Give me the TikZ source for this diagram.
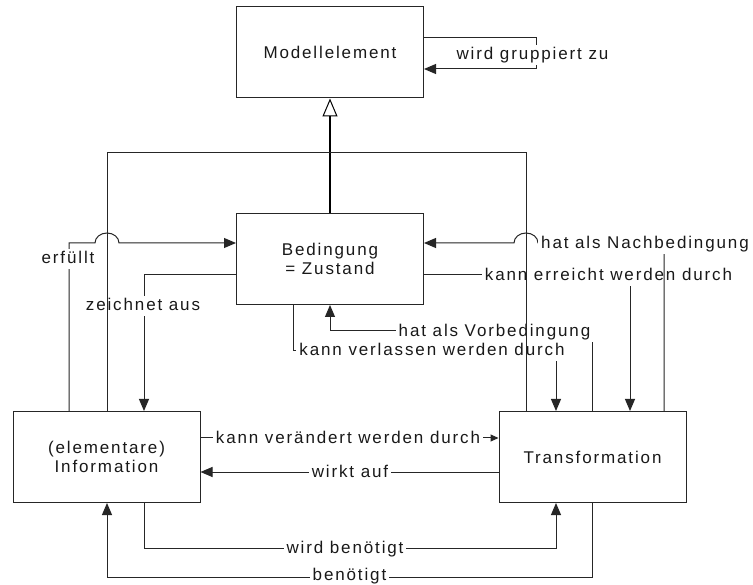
\documentclass[tikz,border=0pt]{standalone}
\usepackage{fontspec}
\setmainfont{Liberation Sans}[LetterSpace=11]
\usetikzlibrary{arrows.meta}

\newcommand{\diagfont}{\fontsize{17}{19}\selectfont}

\tikzset{
  box/.style={draw=black!85, line width=1pt, minimum width=187pt,
    minimum height=91pt, align=center, inner sep=0pt, font=\diagfont,
    text=black!90},
  lbl/.style={fill=white, inner xsep=3pt, inner ysep=2pt, font=\diagfont,
    text=black!90, text height=12pt, text depth=3.5pt},
  conn/.style={draw=black!85, line width=1pt},
  arr/.style={-{Triangle[length=12pt,width=10pt]}},
  sarr/.style={-{Triangle[length=8pt,width=7pt]}},
  gen/.style={draw=black, line width=1.3pt,
    -{Triangle[open,length=18pt,width=15pt,line width=1pt]}},
}

\begin{document}
\begin{tikzpicture}[x=1pt, y=-1pt]
  \useasboundingbox (0,0) rectangle (753,585);
  \fill[white] (0,0) rectangle (753,585);

  % the four classes
  \node[box] (mod) at (330,52.5) {Modellelement};
  \node[box] (bed) at (330,259) {Bedingung\\= Zustand};
  \node[box] (inf) at (106.5,457) {(elementare)\\Information};
  \node[box] (tra) at (592.5,457) {Transformation};

  % self association of Modellelement
  \draw[conn,arr] (mod.east |- 0,38) -- (536,38) -- (536,69) -- (mod.east |- 0,69);
  \node[lbl] (lgr) at (532.5,55) {wird gruppiert zu};

  % generalisation to Modellelement
  \draw[gen] (bed.north) -- (mod.south);

  % Information -> Bedingung, hopping over the frame
  \draw[conn,arr] (inf.north -| 69,0) -- (69,243) -- (95,243)
    arc[start angle=180, end angle=360, x radius=12, y radius=10]
    -- (bed.west |- 0,243);
  \node[lbl] (lerf) at (68,259) {erfüllt};

  % Bedingung -> Information
  \draw[conn,arr] (bed.west |- 0,275) -- (144,275) -- (inf.north -| 144,0);
  \node[lbl] (lzei) at (143,306) {zeichnet aus};

  % Transformation -> Bedingung (precondition)
  \draw[conn,arr] (tra.north) -- (tra.north |- 0,331) -- (bed.south |- 0,331) -- (bed.south);
  \node[lbl] (lvor) at (494.5,332) {hat als Vorbedingung};

  % Bedingung -> Transformation (leaving)
  \draw[conn,arr] (bed.south -| 293,0) -- (293,351) -- (556,351) -- (tra.north -| 556,0);
  \node[lbl] (lver) at (432,351) {kann verlassen werden durch};

  % Bedingung -> Transformation (reaching)
  \draw[conn,arr] (bed.east |- 0,275) -- (630,275) -- (tra.north -| 630,0);
  \node[lbl] (lerr) at (608.5,276) {kann erreicht werden durch};

  % Transformation -> Bedingung (postcondition), hopping over the frame
  \draw[conn,arr] (tra.north -| 664,0) -- (664,243) -- (538,243)
    arc[start angle=0, end angle=-180, x radius=12, y radius=10]
    -- (bed.east |- 0,243);
  \node[lbl] (lnach) at (645,244) {hat als Nachbedingung};

  % Information <-> Transformation
  \draw[conn,sarr] (inf.east |- 0,438) -- (tra.west |- 0,438);
  \node[lbl] (lvae) at (348,439) {kann verändert werden durch};
  \draw[conn,arr] (tra.west |- 0,472) -- (inf.east |- 0,472);
  \node[lbl] (lwir) at (350,473) {wirkt auf};

  \draw[conn,arr] (inf.south -| 144,0) -- (144,548) -- (556,548) -- (tra.south -| 556,0);
  \node[lbl] (lwbe) at (345,549) {wird benötigt};
  \draw[conn,arr] (tra.south) -- (tra.south |- 0,577) -- (107,577) -- (inf.south -| 107,0);
  \node[lbl] (lben) at (349.5,576.5) {benötigt};

  % common generalisation frame of Information and Transformation
  \draw[conn] (inf.north -| 107,0) -- (107,153) -- (526,153) -- (tra.north -| 526,0);
\end{tikzpicture}
\end{document}
